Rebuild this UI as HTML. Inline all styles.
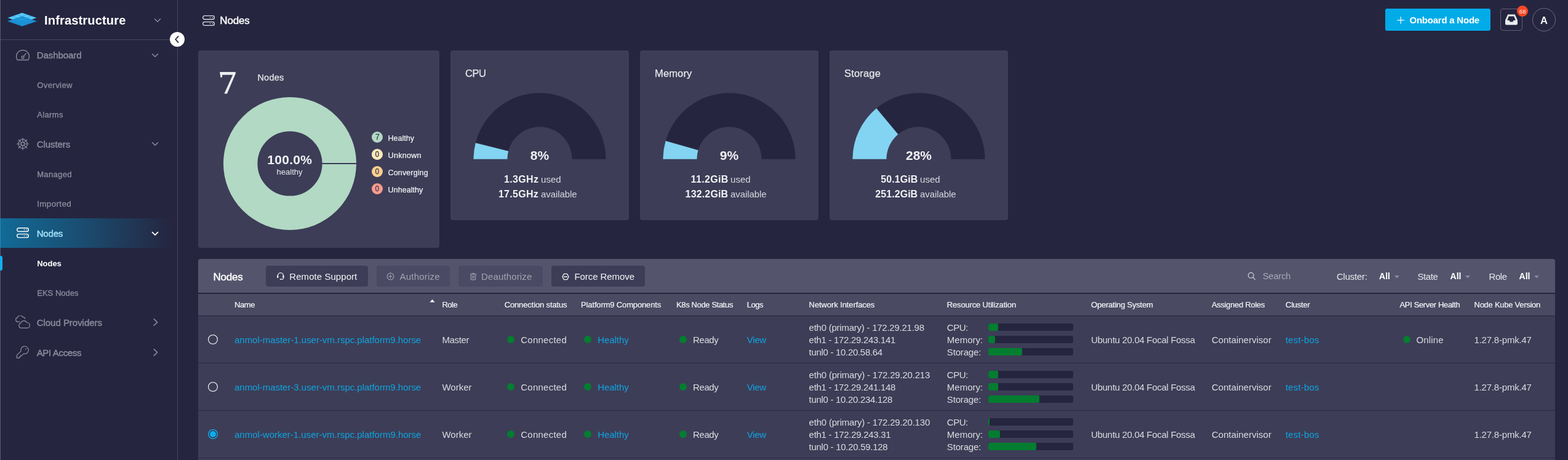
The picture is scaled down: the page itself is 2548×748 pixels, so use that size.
<!DOCTYPE html>
<html lang="en"><head><meta charset="utf-8"><title>Nodes - Infrastructure</title>
<style>
html,body{margin:0;padding:0;}
body{width:2548px;height:748px;overflow:hidden;background:#25253f;position:relative;font-family:'Liberation Sans',sans-serif;}
#app{position:absolute;left:0;top:0;width:2548px;height:748px;overflow:hidden;background:#25253f;}
#app div,#app span,#app svg{position:absolute;}
#app span{white-space:pre;}
</style></head><body><div id="app">
<nav aria-label="Infrastructure navigation">
<div style="left:0px;top:0px;width:1px;height:748px;background:#5a5a70;"></div>
<div style="left:288px;top:0px;width:1px;height:748px;background:#45455e;"></div>
<div style="left:1px;top:64px;width:287px;height:1px;background:#45455e;"></div>
<div style="left:0px;top:355px;width:288px;height:48px;background:linear-gradient(90deg,rgba(0,171,232,0.52) 0%,rgba(0,171,232,0.30) 45%,rgba(0,171,232,0.10) 80%,rgba(0,171,232,0) 97%);"></div>
<div style="left:0px;top:416px;width:4px;height:24px;background:#12b0f0;border-radius:0 3px 3px 0;"></div>
<svg style="left:12px;top:20px;" width="49" height="24" viewBox="0 0 49 24"><polygon points="24,6.3 48.1,14.5 24,22.7 0,14.5" fill="#1b8fd3"/><polygon points="24.00,0.80 47.60,9.00 24.00,17.10 0.30,9.00" fill="#2ba6e6"/><polygon points="24.00,1.18 30.76,3.53 23.97,5.88 17.20,3.53" fill="#5ecaf6"/><polygon points="16.10,3.92 22.86,6.27 16.07,8.62 9.30,6.27" fill="#5ecaf6"/><polygon points="8.20,6.65 14.96,9.00 8.17,11.35 1.40,9.00" fill="#5ecaf6"/><polygon points="31.86,3.92 38.63,6.27 31.84,8.62 25.07,6.27" fill="#5ecaf6"/><polygon points="23.96,6.65 30.73,9.00 23.94,11.35 17.17,9.00" fill="#1b90d4"/><polygon points="16.06,9.38 22.83,11.73 16.04,14.08 9.27,11.73" fill="#1b90d4"/><polygon points="39.73,6.65 46.50,9.00 39.70,11.35 32.94,9.00" fill="#5ecaf6"/><polygon points="31.83,9.38 38.60,11.73 31.80,14.08 25.04,11.73" fill="#1b90d4"/><polygon points="23.93,12.12 30.70,14.47 23.90,16.82 17.14,14.47" fill="#1b90d4"/></svg>
<span style="left:72.00px;top:22px;line-height:22px;font-size:20px;color:#ffffff;letter-spacing:0.176px;font-weight:700;">Infrastructure</span>
<svg style="left:248.5px;top:28px;" width="14" height="10" viewBox="0 0 14 10"><polyline points="2.5,2.7 7,7.2 11.5,2.7" fill="none" stroke="#8a8a9e" stroke-width="1.5" stroke-linecap="round" stroke-linejoin="round"/></svg>
<div style="left:276px;top:52px;width:24px;height:24px;border-radius:50%;background:#fff;"></div>
<svg style="left:282px;top:57px;" width="12" height="14" viewBox="0 0 12 14"><polyline points="7.6,2.2 3.2,7 7.6,11.8" fill="none" stroke="#25253f" stroke-width="1.8" stroke-linecap="round" stroke-linejoin="round"/></svg>
<svg style="left:25px;top:80px;" width="24" height="19" viewBox="0 0 24 19"><path d="M3.06,17.5 H20.94 A10.5,10.5 0 1 0 3.06,17.5 Z" fill="none" stroke="#8d8d9f" stroke-width="1.35" stroke-linejoin="round"/><circle cx="12" cy="13.1" r="1.9" fill="none" stroke="#8d8d9f" stroke-width="1.3"/><line x1="13.3" y1="11.7" x2="17.3" y2="7" stroke="#8d8d9f" stroke-width="1.3" stroke-linecap="round"/></svg>
<span style="left:59.70px;top:81px;line-height:17px;font-size:15px;color:#8d8d9f;letter-spacing:-0.055px;-webkit-text-stroke:0.4px #8d8d9f;">Dashboard</span>
<svg style="left:244.5px;top:84.5px;" width="14" height="10" viewBox="0 0 14 10"><polyline points="2.5,2.7 7,7.2 11.5,2.7" fill="none" stroke="#8d8d9f" stroke-width="1.5" stroke-linecap="round" stroke-linejoin="round"/></svg>
<span style="left:60.20px;top:131px;line-height:15px;font-size:13px;color:#8d8d9f;letter-spacing:0.442px;-webkit-text-stroke:0.3px #8d8d9f;">Overview</span>
<span style="left:60.20px;top:179px;line-height:15px;font-size:13px;color:#8d8d9f;letter-spacing:0.354px;-webkit-text-stroke:0.3px #8d8d9f;">Alarms</span>
<svg style="left:25.95px;top:222.5px;" width="22" height="22" viewBox="0 0 22 22"><circle cx="11" cy="11" r="7.3" fill="none" stroke="#8d8d9f" stroke-width="1.3"/><circle cx="11" cy="11" r="2.7" fill="none" stroke="#8d8d9f" stroke-width="1.2"/><line x1="13.70" y1="11.00" x2="20.50" y2="11.00" stroke="#8d8d9f" stroke-width="1.15" stroke-linecap="round"/><line x1="12.91" y1="12.91" x2="17.72" y2="17.72" stroke="#8d8d9f" stroke-width="1.15" stroke-linecap="round"/><line x1="11.00" y1="13.70" x2="11.00" y2="20.50" stroke="#8d8d9f" stroke-width="1.15" stroke-linecap="round"/><line x1="9.09" y1="12.91" x2="4.28" y2="17.72" stroke="#8d8d9f" stroke-width="1.15" stroke-linecap="round"/><line x1="8.30" y1="11.00" x2="1.50" y2="11.00" stroke="#8d8d9f" stroke-width="1.15" stroke-linecap="round"/><line x1="9.09" y1="9.09" x2="4.28" y2="4.28" stroke="#8d8d9f" stroke-width="1.15" stroke-linecap="round"/><line x1="11.00" y1="8.30" x2="11.00" y2="1.50" stroke="#8d8d9f" stroke-width="1.15" stroke-linecap="round"/><line x1="12.91" y1="9.09" x2="17.72" y2="4.28" stroke="#8d8d9f" stroke-width="1.15" stroke-linecap="round"/></svg>
<span style="left:59.70px;top:226px;line-height:17px;font-size:15px;color:#8d8d9f;letter-spacing:-0.079px;-webkit-text-stroke:0.4px #8d8d9f;">Clusters</span>
<svg style="left:244.5px;top:229px;" width="14" height="10" viewBox="0 0 14 10"><polyline points="2.5,2.7 7,7.2 11.5,2.7" fill="none" stroke="#8d8d9f" stroke-width="1.5" stroke-linecap="round" stroke-linejoin="round"/></svg>
<span style="left:60.20px;top:276px;line-height:15px;font-size:13px;color:#8d8d9f;letter-spacing:0.344px;-webkit-text-stroke:0.3px #8d8d9f;">Managed</span>
<span style="left:60.20px;top:324px;line-height:15px;font-size:13.5px;color:#8d8d9f;letter-spacing:0.324px;-webkit-text-stroke:0.3px #8d8d9f;">Imported</span>
<svg style="left:26px;top:368.9px;" width="22" height="20" viewBox="0 0 22 20"><rect x="1.7" y="1.7" width="18.6" height="5.8" rx="2.7" fill="none" stroke="#ffffff" stroke-width="1.4"/><rect x="1.7" y="11.6" width="18.6" height="5.8" rx="2.7" fill="none" stroke="#ffffff" stroke-width="1.4"/><circle cx="13.5" cy="4.6" r="0.8" fill="#ffffff"/><circle cx="17.3" cy="4.6" r="0.8" fill="#ffffff"/><circle cx="13.5" cy="14.5" r="0.8" fill="#ffffff"/><circle cx="17.3" cy="14.5" r="0.8" fill="#ffffff"/></svg>
<span style="left:59.70px;top:371px;line-height:17px;font-size:15px;color:#a2e1fa;letter-spacing:-0.170px;-webkit-text-stroke:0.4px #a2e1fa;">Nodes</span>
<svg style="left:244.5px;top:374.5px;" width="14" height="10" viewBox="0 0 14 10"><polyline points="2.5,2.7 7,7.2 11.5,2.7" fill="none" stroke="#ffffff" stroke-width="1.8" stroke-linecap="round" stroke-linejoin="round"/></svg>
<span style="left:60.20px;top:421px;line-height:15px;font-size:13px;color:#ffffff;letter-spacing:-0.025px;font-weight:700;">Nodes</span>
<span style="left:60.20px;top:469px;line-height:15px;font-size:13px;color:#8d8d9f;letter-spacing:0.020px;-webkit-text-stroke:0.3px #8d8d9f;">EKS Nodes</span>
<svg style="left:24px;top:513px;" width="26" height="22" viewBox="0 0 26 22"><path d="M8.2,10.4 H5 a3.6,3.6 0 0 1 -0.6,-7.1 a4.6,4.6 0 0 1 8.6,-0.6 a3.4,3.4 0 0 1 3.6,2.4" fill="none" stroke="#8d8d9f" stroke-width="1.2" stroke-linecap="round" stroke-linejoin="round"/><path d="M10.6,20.4 a4.1,4.1 0 0 1 -0.6,-8.1 a5.2,5.2 0 0 1 9.6,-0.8 a4.5,4.5 0 0 1 1.2,8.9 Z" fill="none" stroke="#8d8d9f" stroke-width="1.2" stroke-linejoin="round"/></svg>
<span style="left:59.70px;top:516px;line-height:17px;font-size:15px;color:#8d8d9f;letter-spacing:-0.027px;-webkit-text-stroke:0.4px #8d8d9f;">Cloud Providers</span>
<svg style="left:248px;top:517px;" width="10" height="14" viewBox="0 0 10 14"><polyline points="2.2,1.8 7.6,7 2.2,12.2" fill="none" stroke="#8d8d9f" stroke-width="1.6" stroke-linecap="round" stroke-linejoin="round"/></svg>
<svg style="left:26px;top:562px;" width="22" height="22" viewBox="0 0 22 22"><path d="M12.5,13.2 A6.2,6.2 0 1 0 8.1,8.8 L1.3,15.7 V20.1 H5.5 V18.1 H7.6 V16.1 H9.6 Z" fill="none" stroke="#8d8d9f" stroke-width="1.2" stroke-linejoin="round"/><circle cx="15.9" cy="5.5" r="0.9" fill="#8d8d9f"/></svg>
<span style="left:59.70px;top:565px;line-height:17px;font-size:15px;color:#8d8d9f;letter-spacing:-0.341px;-webkit-text-stroke:0.4px #8d8d9f;">API Access</span>
<svg style="left:248px;top:566px;" width="10" height="14" viewBox="0 0 10 14"><polyline points="2.2,1.8 7.6,7 2.2,12.2" fill="none" stroke="#8d8d9f" stroke-width="1.6" stroke-linecap="round" stroke-linejoin="round"/></svg>
</nav>
<header>
<svg style="left:327.9px;top:23.9px;" width="22" height="20" viewBox="0 0 22 20"><rect x="1.7" y="1.7" width="18.6" height="5.8" rx="2.7" fill="none" stroke="#e0e0e6" stroke-width="1.3"/><rect x="1.7" y="11.6" width="18.6" height="5.8" rx="2.7" fill="none" stroke="#e0e0e6" stroke-width="1.3"/><circle cx="13.5" cy="4.6" r="0.8" fill="#e0e0e6"/><circle cx="17.3" cy="4.6" r="0.8" fill="#e0e0e6"/><circle cx="13.5" cy="14.5" r="0.8" fill="#e0e0e6"/><circle cx="17.3" cy="14.5" r="0.8" fill="#e0e0e6"/></svg>
<span style="left:357.30px;top:24px;line-height:19px;font-size:17px;color:#ffffff;letter-spacing:-0.177px;-webkit-text-stroke:0.4px #fff;">Nodes</span>
<div style="left:2251px;top:14px;width:171px;height:36px;background:#00abe8;border-radius:3px;"></div>
<svg style="left:2270px;top:27px;" width="12" height="12" viewBox="0 0 12 12"><path d="M6.2,0.6 V11.2 M0.9,5.9 H11.5" stroke="#fff" stroke-width="1.15" stroke-linecap="round"/></svg>
<span style="left:2290.50px;top:24px;line-height:17px;font-size:15px;color:#ffffff;letter-spacing:-0.230px;font-weight:700;">Onboard a Node</span>
<div style="left:2438px;top:14px;width:34px;height:34px;border:1px solid #60607a;border-radius:4px;"></div>
<svg style="left:2445px;top:21.6px;" width="22" height="20" viewBox="0 0 22 20"><path d="M5.2,1.6 H16.8 L21,11 V16.4 a2,2 0 0 1 -2,2 H3 a2,2 0 0 1 -2,-2 V11 Z M4.2,11 H7.4 L8.8,13.6 H13.2 L14.6,11 H17.8 L15.2,4.6 H6.8 Z" fill="#ececf0" fill-rule="evenodd"/></svg>
<div style="left:2465px;top:9px;width:18px;height:18px;border-radius:50%;background:#f84724;"></div>
<span style="left:2468.75px;top:13px;line-height:11px;font-size:9.5px;color:#f4f4f6;letter-spacing:0.3px;">68</span>
<div style="left:2490px;top:13px;width:36px;height:36px;border:1px solid #6a6a80;border-radius:50%;"></div>
<span style="left:2503.03px;top:24px;line-height:18px;font-size:16.5px;color:#f0f0f4;font-weight:700;">A</span>
</header>
<main>
<section aria-label="Node health and resource usage">
<div style="left:322px;top:82px;width:392px;height:321px;background:#3d3d57;border-radius:4px;"></div>
<div style="left:732px;top:82px;width:290px;height:276px;background:#3d3d57;border-radius:4px;"></div>
<div style="left:1040px;top:82px;width:290px;height:276px;background:#3d3d57;border-radius:4px;"></div>
<div style="left:1348px;top:82px;width:290px;height:276px;background:#3d3d57;border-radius:4px;"></div>
<span style="left:358.60px;top:105px;line-height:58px;font-size:53px;color:#f0f0f4;font-family:'Liberation Serif',serif;transform:scaleX(1.16) skewX(6deg);transform-origin:0 100%;-webkit-text-stroke:0.4px #f0f0f4;">7</span>
<span style="left:418.40px;top:118px;line-height:16px;font-size:14.5px;color:#e6e6ea;letter-spacing:0.250px;-webkit-text-stroke:0.25px #e6e6ea;">Nodes</span>
<svg style="left:363px;top:158px;" width="216" height="216" viewBox="0 0 216 216"><circle cx="108" cy="108" r="80.3" fill="none" stroke="#b2d9c4" stroke-width="55.4"/><rect x="160" y="107" width="57" height="2" fill="#3d3d57"/></svg>
<span style="left:434.36px;top:248px;line-height:23px;font-size:21px;color:#f0f0f4;letter-spacing:0.264px;font-weight:700;">100.0%</span>
<span style="left:449.40px;top:272px;line-height:15px;font-size:13px;color:#e6e6ea;letter-spacing:0.048px;">healthy</span>
<div style="left:604px;top:214px;width:18px;height:18px;border-radius:50%;background:#b2d9c4;"></div>
<span style="left:609.91px;top:216px;line-height:14px;font-size:12px;color:#3d3d57;-webkit-text-stroke:0.3px #3d3d57;">7</span>
<span style="left:630.60px;top:218px;line-height:14px;font-size:12.5px;color:#f0f0f4;letter-spacing:-0.011px;-webkit-text-stroke:0.22px #f0f0f4;">Healthy</span>
<div style="left:604px;top:242px;width:18px;height:18px;border-radius:50%;background:#fdeab8;"></div>
<span style="left:609.56px;top:244px;line-height:14px;font-size:12px;color:#3d3d57;-webkit-text-stroke:0.3px #3d3d57;">0</span>
<span style="left:630.60px;top:246px;line-height:14px;font-size:12.5px;color:#f0f0f4;letter-spacing:0.284px;-webkit-text-stroke:0.22px #f0f0f4;">Unknown</span>
<div style="left:604px;top:270px;width:18px;height:18px;border-radius:50%;background:#fbd08e;"></div>
<span style="left:609.56px;top:272px;line-height:14px;font-size:12px;color:#3d3d57;-webkit-text-stroke:0.3px #3d3d57;">0</span>
<span style="left:630.60px;top:274px;line-height:14px;font-size:12.5px;color:#f0f0f4;letter-spacing:0.123px;-webkit-text-stroke:0.22px #f0f0f4;">Converging</span>
<div style="left:604px;top:298px;width:18px;height:18px;border-radius:50%;background:#fb9c8b;"></div>
<span style="left:609.56px;top:300px;line-height:14px;font-size:12px;color:#3d3d57;-webkit-text-stroke:0.3px #3d3d57;">0</span>
<span style="left:630.60px;top:302px;line-height:14px;font-size:12.5px;color:#f0f0f4;letter-spacing:0.044px;-webkit-text-stroke:0.22px #f0f0f4;">Unhealthy</span>
<svg style="left:0;top:0" width="2548" height="400" viewBox="0 0 2548 400"><path d="M769.50,258.70 A107.5,107.5 0 0 1 772.76,232.42 L826.09,245.87 A52.5,52.5 0 0 0 824.50,258.70 Z" fill="#82d4f2"/><path d="M772.99,231.51 A107.5,107.5 0 0 1 984.50,258.70 L929.50,258.70 A52.5,52.5 0 0 0 826.21,245.42 Z" fill="#25253f"/></svg>
<span style="left:756.00px;top:110px;line-height:18px;font-size:16.5px;color:#e6e6ea;letter-spacing:-0.446px;-webkit-text-stroke:0.25px #e6e6ea;">CPU</span>
<span style="left:861.87px;top:241px;line-height:23px;font-size:21px;color:#f0f0f4;font-weight:700;">8%</span>
<span style="left:818.89px;top:283px;line-height:17px;font-size:16px;color:#f0f0f4;letter-spacing:0.369px;font-weight:700;">1.3GHz</span>
<span style="left:879.00px;top:283px;line-height:17px;font-size:15px;color:#d6d6de;letter-spacing:0.059px;">used</span>
<span style="left:809.89px;top:307px;line-height:17px;font-size:16px;color:#f0f0f4;letter-spacing:0.308px;font-weight:700;">17.5GHz</span>
<span style="left:879.00px;top:307px;line-height:17px;font-size:15px;color:#d6d6de;letter-spacing:-0.090px;">available</span>
<svg style="left:0;top:0" width="2548" height="400" viewBox="0 0 2548 400"><path d="M1077.50,258.70 A107.5,107.5 0 0 1 1081.64,229.16 L1134.52,244.27 A52.5,52.5 0 0 0 1132.50,258.70 Z" fill="#82d4f2"/><path d="M1081.90,228.26 A107.5,107.5 0 0 1 1292.50,258.70 L1237.50,258.70 A52.5,52.5 0 0 0 1134.65,243.83 Z" fill="#25253f"/></svg>
<span style="left:1064.00px;top:110px;line-height:18px;font-size:16.5px;color:#e6e6ea;letter-spacing:0.141px;-webkit-text-stroke:0.25px #e6e6ea;">Memory</span>
<span style="left:1169.85px;top:241px;line-height:23px;font-size:21px;color:#f0f0f4;font-weight:700;">9%</span>
<span style="left:1122.59px;top:283px;line-height:17px;font-size:16px;color:#f0f0f4;letter-spacing:0.335px;font-weight:700;">11.2GiB</span>
<span style="left:1187.00px;top:283px;line-height:17px;font-size:15px;color:#d6d6de;letter-spacing:0.059px;">used</span>
<span style="left:1113.59px;top:307px;line-height:17px;font-size:16px;color:#f0f0f4;letter-spacing:0.158px;font-weight:700;">132.2GiB</span>
<span style="left:1187.00px;top:307px;line-height:17px;font-size:15px;color:#d6d6de;letter-spacing:-0.090px;">available</span>
<svg style="left:0;top:0" width="2548" height="400" viewBox="0 0 2548 400"><path d="M1385.50,258.70 A107.5,107.5 0 0 1 1424.12,176.17 L1459.36,218.39 A52.5,52.5 0 0 0 1440.50,258.70 Z" fill="#82d4f2"/><path d="M1424.84,175.57 A107.5,107.5 0 0 1 1600.50,258.70 L1545.50,258.70 A52.5,52.5 0 0 0 1459.71,218.10 Z" fill="#25253f"/></svg>
<span style="left:1372.00px;top:110px;line-height:18px;font-size:16.5px;color:#e6e6ea;letter-spacing:0.175px;-webkit-text-stroke:0.25px #e6e6ea;">Storage</span>
<span style="left:1471.98px;top:241px;line-height:23px;font-size:21px;color:#f0f0f4;font-weight:700;">28%</span>
<span style="left:1431.30px;top:283px;line-height:17px;font-size:16px;color:#f0f0f4;letter-spacing:0.068px;font-weight:700;">50.1GiB</span>
<span style="left:1495.00px;top:283px;line-height:17px;font-size:15px;color:#d6d6de;letter-spacing:0.059px;">used</span>
<span style="left:1422.35px;top:307px;line-height:17px;font-size:16px;color:#f0f0f4;letter-spacing:0.050px;font-weight:700;">251.2GiB</span>
<span style="left:1495.00px;top:307px;line-height:17px;font-size:15px;color:#d6d6de;letter-spacing:-0.090px;">available</span>
</section>
<section aria-label="Nodes table">
<div style="left:322px;top:421px;width:2205px;height:327px;background:#3d3d57;border-radius:4px 4px 0 0;"></div>
<div style="left:322px;top:421px;width:2205px;height:55px;background:#54546d;border-radius:4px 4px 0 0;"></div>
<div style="left:322px;top:476px;width:2205px;height:2px;background:#25253f;"></div>
<div style="left:322px;top:478px;width:2205px;height:35px;background:#4a4a63;"></div>
<div style="left:322px;top:513px;width:2205px;height:1px;background:#25253f;"></div>
<div style="left:322px;top:590px;width:2205px;height:1px;background:#2b2b45;"></div>
<div style="left:322px;top:667px;width:2205px;height:1px;background:#2b2b45;"></div>
<div style="left:322px;top:744px;width:2205px;height:1px;background:#2b2b45;"></div>
<span style="left:346.50px;top:441px;line-height:19px;font-size:17px;color:#ffffff;letter-spacing:-0.202px;-webkit-text-stroke:0.4px #fff;">Nodes</span>
<div style="left:432px;top:432px;width:166px;height:34px;background:#3d3d57;border-radius:4px;"></div>
<svg style="left:448.5px;top:442.3px" width="13.8" height="13.8" viewBox="0 0 15 15"><path d="M2.6,8.4 V6.6 a4.9,4.9 0 0 1 9.8,0 V8.4" fill="none" stroke="#f0f0f4" stroke-width="1.4"/><rect x="1.2" y="6.4" width="2.6" height="4.4" rx="1" fill="#f0f0f4"/><rect x="11.2" y="6.4" width="2.6" height="4.4" rx="1" fill="#f0f0f4"/><path d="M12.4,10.6 V11.6 a1.6,1.6 0 0 1 -1.6,1.6 H8" fill="none" stroke="#f0f0f4" stroke-width="1.2"/><rect x="6.2" y="12.2" width="2.6" height="1.8" rx="0.9" fill="#f0f0f4"/></svg>
<span style="left:470.30px;top:441px;line-height:17px;font-size:15px;color:#f0f0f4;letter-spacing:0.056px;">Remote Support</span>
<div style="left:612px;top:432px;width:119px;height:34px;background:#4a4a64;border-radius:4px;"></div>
<svg style="left:628.3px;top:442.9px" width="13" height="13" viewBox="0 0 14 14"><circle cx="7" cy="7" r="5.8" fill="none" stroke="#a2a2b2" stroke-width="1.2"/><path d="M7,4.2 V9.8 M4.2,7 H9.8" stroke="#a2a2b2" stroke-width="1.2" stroke-linecap="round"/></svg>
<span style="left:649.50px;top:441px;line-height:17px;font-size:15px;color:#a2a2b2;letter-spacing:0.208px;">Authorize</span>
<div style="left:745px;top:432px;width:137px;height:34px;background:#4a4a64;border-radius:4px;"></div>
<svg style="left:762.6px;top:442.6px" width="12" height="13" viewBox="0 0 13 14"><path d="M1.2,3.2 H11.8 M4.4,3 V1.6 H8.6 V3" fill="none" stroke="#a2a2b2" stroke-width="1.2" stroke-linecap="round"/><path d="M2.4,3.4 V11.6 a1.2,1.2 0 0 0 1.2,1.2 H9.4 a1.2,1.2 0 0 0 1.2,-1.2 V3.4" fill="none" stroke="#a2a2b2" stroke-width="1.2"/><path d="M4.8,5.4 V10.6 M6.5,5.4 V10.6 M8.2,5.4 V10.6" stroke="#a2a2b2" stroke-width="0.9"/></svg>
<span style="left:782.00px;top:441px;line-height:17px;font-size:15px;color:#a2a2b2;letter-spacing:0.141px;">Deauthorize</span>
<div style="left:896px;top:432px;width:152px;height:34px;background:#3d3d57;border-radius:4px;"></div>
<svg style="left:912.1px;top:442.5px" width="14" height="14" viewBox="0 0 14 14"><path d="M4.5,2.4 H9.5 L12.2,7 L9.5,11.6 H4.5 L1.8,7 Z" fill="none" stroke="#f0f0f4" stroke-width="1.3" stroke-linejoin="round"/><path d="M4.4,7 H9.6" stroke="#f0f0f4" stroke-width="1.3" stroke-linecap="round"/></svg>
<span style="left:933.50px;top:441px;line-height:17px;font-size:15px;color:#f0f0f4;letter-spacing:-0.076px;">Force Remove</span>
<svg style="left:2027px;top:442px;" width="14" height="14" viewBox="0 0 14 14"><circle cx="5.8" cy="5.8" r="4.4" fill="none" stroke="#d0d0d8" stroke-width="1.2"/><path d="M9,9 L12.6,12.6" stroke="#d0d0d8" stroke-width="1.2" stroke-linecap="round"/></svg>
<span style="left:2052.00px;top:441px;line-height:16px;font-size:14.5px;color:#a8a8b8;letter-spacing:-0.117px;">Search</span>
<span style="left:2172.00px;top:441px;line-height:17px;font-size:15px;color:#e6e6ea;letter-spacing:-0.240px;">Cluster:</span>
<span style="left:2241.00px;top:441px;line-height:16px;font-size:14px;color:#ffffff;letter-spacing:0.020px;font-weight:700;">All</span>
<svg style="left:2266px;top:447.5px;" width="8" height="5" viewBox="0 0 8 5"><polygon points="0,0 8,0 4,4.4" fill="#8a8a9e"/></svg>
<span style="left:2303.50px;top:441px;line-height:17px;font-size:15px;color:#e6e6ea;letter-spacing:-0.430px;">State</span>
<span style="left:2356.50px;top:441px;line-height:16px;font-size:14px;color:#ffffff;letter-spacing:0.020px;font-weight:700;">All</span>
<svg style="left:2381px;top:447.5px;" width="8" height="5" viewBox="0 0 8 5"><polygon points="0,0 8,0 4,4.4" fill="#8a8a9e"/></svg>
<span style="left:2419.50px;top:441px;line-height:17px;font-size:15px;color:#e6e6ea;letter-spacing:-0.450px;">Role</span>
<span style="left:2468.50px;top:441px;line-height:16px;font-size:14px;color:#ffffff;letter-spacing:0.020px;font-weight:700;">All</span>
<svg style="left:2493px;top:447.5px;" width="8" height="5" viewBox="0 0 8 5"><polygon points="0,0 8,0 4,4.4" fill="#8a8a9e"/></svg>
<span style="left:381.00px;top:488px;line-height:15px;font-size:13px;color:#f0f0f4;letter-spacing:-0.396px;-webkit-text-stroke:0.22px #f0f0f4;">Name</span>
<span style="left:718.40px;top:488px;line-height:15px;font-size:13px;color:#f0f0f4;letter-spacing:-0.450px;-webkit-text-stroke:0.22px #f0f0f4;">Role</span>
<span style="left:819.70px;top:488px;line-height:15px;font-size:13px;color:#f0f0f4;letter-spacing:-0.138px;-webkit-text-stroke:0.22px #f0f0f4;">Connection status</span>
<span style="left:944.10px;top:488px;line-height:15px;font-size:13px;color:#f0f0f4;letter-spacing:-0.148px;-webkit-text-stroke:0.22px #f0f0f4;">Platform9 Components</span>
<span style="left:1099.00px;top:488px;line-height:15px;font-size:13px;color:#f0f0f4;letter-spacing:-0.363px;-webkit-text-stroke:0.22px #f0f0f4;">K8s Node Status</span>
<span style="left:1213.70px;top:488px;line-height:15px;font-size:13px;color:#f0f0f4;letter-spacing:-0.450px;-webkit-text-stroke:0.22px #f0f0f4;">Logs</span>
<span style="left:1314.60px;top:488px;line-height:15px;font-size:13px;color:#f0f0f4;letter-spacing:-0.094px;-webkit-text-stroke:0.22px #f0f0f4;">Network Interfaces</span>
<span style="left:1538.80px;top:488px;line-height:15px;font-size:13px;color:#f0f0f4;letter-spacing:-0.173px;-webkit-text-stroke:0.22px #f0f0f4;">Resource Utilization</span>
<span style="left:1773.00px;top:488px;line-height:15px;font-size:13px;color:#f0f0f4;letter-spacing:-0.216px;-webkit-text-stroke:0.22px #f0f0f4;">Operating System</span>
<span style="left:1969.00px;top:488px;line-height:15px;font-size:13px;color:#f0f0f4;letter-spacing:-0.300px;-webkit-text-stroke:0.22px #f0f0f4;">Assigned Roles</span>
<span style="left:2089.00px;top:488px;line-height:15px;font-size:13px;color:#f0f0f4;letter-spacing:-0.242px;-webkit-text-stroke:0.22px #f0f0f4;">Cluster</span>
<span style="left:2274.50px;top:488px;line-height:15px;font-size:13px;color:#f0f0f4;letter-spacing:-0.356px;-webkit-text-stroke:0.22px #f0f0f4;">API Server Health</span>
<span style="left:2395.50px;top:488px;line-height:15px;font-size:13px;color:#f0f0f4;letter-spacing:-0.263px;-webkit-text-stroke:0.22px #f0f0f4;">Node Kube Version</span>
<svg style="left:698px;top:486px;" width="9" height="6" viewBox="0 0 9 6"><polygon points="0.4,5.4 8.6,5.4 4.5,0.8" fill="#f0f0f4"/></svg>
<svg style="left:336px;top:542px;" width="20" height="20" viewBox="0 0 20 20"><circle cx="10" cy="10" r="7.45" fill="none" stroke="#e0e0e6" stroke-width="1.3"/></svg>
<span style="left:381.00px;top:544px;line-height:17px;font-size:15px;color:#0ea4df;letter-spacing:-0.025px;">anmol-master-1.user-vm.rspc.platform9.horse</span>
<span style="left:718.40px;top:544px;line-height:17px;font-size:15px;color:#dadae0;letter-spacing:-0.356px;">Master</span>
<div style="left:824px;top:546px;width:12px;height:12px;border-radius:50%;background:#047d30;"></div>
<span style="left:846.30px;top:544px;line-height:17px;font-size:15px;color:#dadae0;letter-spacing:0.235px;">Connected</span>
<div style="left:949px;top:546px;width:12px;height:12px;border-radius:50%;background:#047d30;"></div>
<span style="left:971.20px;top:544px;line-height:17px;font-size:15px;color:#0ea4df;letter-spacing:-0.049px;">Healthy</span>
<div style="left:1104px;top:546px;width:12px;height:12px;border-radius:50%;background:#047d30;"></div>
<span style="left:1126.10px;top:544px;line-height:17px;font-size:15px;color:#dadae0;letter-spacing:-0.422px;">Ready</span>
<span style="left:1213.70px;top:544px;line-height:17px;font-size:15px;color:#0ea4df;letter-spacing:-0.248px;">View</span>
<span style="left:1314.60px;top:524px;line-height:17px;font-size:15px;color:#dadae0;letter-spacing:-0.244px;">eth0 (primary) - 172.29.21.98</span>
<span style="left:1314.60px;top:544px;line-height:17px;font-size:15px;color:#dadae0;letter-spacing:-0.300px;">eth1 - 172.29.243.141</span>
<span style="left:1314.60px;top:564px;line-height:17px;font-size:15px;color:#dadae0;letter-spacing:-0.308px;">tunl0 - 10.20.58.64</span>
<span style="left:1538.80px;top:524px;line-height:17px;font-size:15px;color:#dadae0;letter-spacing:-0.450px;">CPU:</span>
<div style="left:1606px;top:526px;width:138px;height:12px;background:#25253f;border-radius:3px;"></div>
<div style="left:1606px;top:526px;width:16px;height:12px;background:#047d30;border-radius:3px 2px 2px 3px;"></div>
<span style="left:1538.80px;top:544px;line-height:17px;font-size:15px;color:#dadae0;">Memory:</span>
<div style="left:1606px;top:546px;width:138px;height:12px;background:#25253f;border-radius:3px;"></div>
<div style="left:1606px;top:546px;width:11px;height:12px;background:#047d30;border-radius:3px 2px 2px 3px;"></div>
<span style="left:1538.80px;top:564px;line-height:17px;font-size:15px;color:#dadae0;letter-spacing:-0.169px;">Storage:</span>
<div style="left:1606px;top:566px;width:138px;height:12px;background:#25253f;border-radius:3px;"></div>
<div style="left:1606px;top:566px;width:55px;height:12px;background:#047d30;border-radius:3px 2px 2px 3px;"></div>
<span style="left:1773.00px;top:544px;line-height:17px;font-size:15px;color:#dadae0;letter-spacing:-0.300px;">Ubuntu 20.04 Focal Fossa</span>
<span style="left:1969.00px;top:544px;line-height:17px;font-size:15px;color:#dadae0;letter-spacing:0.017px;">Containervisor</span>
<span style="left:2089.00px;top:544px;line-height:17px;font-size:15px;color:#0ea4df;letter-spacing:0.164px;">test-bos</span>
<div style="left:2280px;top:546px;width:12px;height:12px;border-radius:50%;background:#047d30;"></div>
<span style="left:2301.50px;top:544px;line-height:17px;font-size:15px;color:#dadae0;letter-spacing:0.132px;">Online</span>
<span style="left:2395.50px;top:544px;line-height:17px;font-size:15px;color:#dadae0;letter-spacing:-0.208px;">1.27.8-pmk.47</span>
<svg style="left:336px;top:619px;" width="20" height="20" viewBox="0 0 20 20"><circle cx="10" cy="10" r="7.45" fill="none" stroke="#e0e0e6" stroke-width="1.3"/></svg>
<span style="left:381.00px;top:621px;line-height:17px;font-size:15px;color:#0ea4df;letter-spacing:-0.025px;">anmol-master-3.user-vm.rspc.platform9.horse</span>
<span style="left:718.40px;top:621px;line-height:17px;font-size:15px;color:#dadae0;letter-spacing:0.022px;">Worker</span>
<div style="left:824px;top:623px;width:12px;height:12px;border-radius:50%;background:#047d30;"></div>
<span style="left:846.30px;top:621px;line-height:17px;font-size:15px;color:#dadae0;letter-spacing:0.235px;">Connected</span>
<div style="left:949px;top:623px;width:12px;height:12px;border-radius:50%;background:#047d30;"></div>
<span style="left:971.20px;top:621px;line-height:17px;font-size:15px;color:#0ea4df;letter-spacing:-0.049px;">Healthy</span>
<div style="left:1104px;top:623px;width:12px;height:12px;border-radius:50%;background:#047d30;"></div>
<span style="left:1126.10px;top:621px;line-height:17px;font-size:15px;color:#dadae0;letter-spacing:-0.422px;">Ready</span>
<span style="left:1213.70px;top:621px;line-height:17px;font-size:15px;color:#0ea4df;letter-spacing:-0.248px;">View</span>
<span style="left:1314.60px;top:601px;line-height:17px;font-size:15px;color:#dadae0;letter-spacing:-0.205px;">eth0 (primary) - 172.29.20.213</span>
<span style="left:1314.60px;top:621px;line-height:17px;font-size:15px;color:#dadae0;letter-spacing:-0.304px;">eth1 - 172.29.241.148</span>
<span style="left:1314.60px;top:641px;line-height:17px;font-size:15px;color:#dadae0;letter-spacing:-0.304px;">tunl0 - 10.20.234.128</span>
<span style="left:1538.80px;top:601px;line-height:17px;font-size:15px;color:#dadae0;letter-spacing:-0.450px;">CPU:</span>
<div style="left:1606px;top:603px;width:138px;height:12px;background:#25253f;border-radius:3px;"></div>
<div style="left:1606px;top:603px;width:16px;height:12px;background:#047d30;border-radius:3px 2px 2px 3px;"></div>
<span style="left:1538.80px;top:621px;line-height:17px;font-size:15px;color:#dadae0;">Memory:</span>
<div style="left:1606px;top:623px;width:138px;height:12px;background:#25253f;border-radius:3px;"></div>
<div style="left:1606px;top:623px;width:16px;height:12px;background:#047d30;border-radius:3px 2px 2px 3px;"></div>
<span style="left:1538.80px;top:641px;line-height:17px;font-size:15px;color:#dadae0;letter-spacing:-0.169px;">Storage:</span>
<div style="left:1606px;top:643px;width:138px;height:12px;background:#25253f;border-radius:3px;"></div>
<div style="left:1606px;top:643px;width:83px;height:12px;background:#047d30;border-radius:3px 2px 2px 3px;"></div>
<span style="left:1773.00px;top:621px;line-height:17px;font-size:15px;color:#dadae0;letter-spacing:-0.300px;">Ubuntu 20.04 Focal Fossa</span>
<span style="left:1969.00px;top:621px;line-height:17px;font-size:15px;color:#dadae0;letter-spacing:0.017px;">Containervisor</span>
<span style="left:2089.00px;top:621px;line-height:17px;font-size:15px;color:#0ea4df;letter-spacing:0.164px;">test-bos</span>
<span style="left:2395.50px;top:621px;line-height:17px;font-size:15px;color:#dadae0;letter-spacing:-0.208px;">1.27.8-pmk.47</span>
<svg style="left:336px;top:696px;" width="20" height="20" viewBox="0 0 20 20"><circle cx="10" cy="10" r="7.45" fill="none" stroke="#0aaeee" stroke-width="1.3"/><circle cx="10" cy="10" r="5.05" fill="#0aaeee"/></svg>
<span style="left:381.00px;top:698px;line-height:17px;font-size:15px;color:#0ea4df;">anmol-worker-1.user-vm.rspc.platform9.horse</span>
<span style="left:718.40px;top:698px;line-height:17px;font-size:15px;color:#dadae0;letter-spacing:0.022px;">Worker</span>
<div style="left:824px;top:700px;width:12px;height:12px;border-radius:50%;background:#047d30;"></div>
<span style="left:846.30px;top:698px;line-height:17px;font-size:15px;color:#dadae0;letter-spacing:0.235px;">Connected</span>
<div style="left:949px;top:700px;width:12px;height:12px;border-radius:50%;background:#047d30;"></div>
<span style="left:971.20px;top:698px;line-height:17px;font-size:15px;color:#0ea4df;letter-spacing:-0.049px;">Healthy</span>
<div style="left:1104px;top:700px;width:12px;height:12px;border-radius:50%;background:#047d30;"></div>
<span style="left:1126.10px;top:698px;line-height:17px;font-size:15px;color:#dadae0;letter-spacing:-0.422px;">Ready</span>
<span style="left:1213.70px;top:698px;line-height:17px;font-size:15px;color:#0ea4df;letter-spacing:-0.248px;">View</span>
<span style="left:1314.60px;top:678px;line-height:17px;font-size:15px;color:#dadae0;letter-spacing:-0.206px;">eth0 (primary) - 172.29.20.130</span>
<span style="left:1314.60px;top:698px;line-height:17px;font-size:15px;color:#dadae0;letter-spacing:-0.281px;">eth1 - 172.29.243.31</span>
<span style="left:1314.60px;top:718px;line-height:17px;font-size:15px;color:#dadae0;letter-spacing:-0.281px;">tunl0 - 10.20.59.128</span>
<span style="left:1538.80px;top:678px;line-height:17px;font-size:15px;color:#dadae0;letter-spacing:-0.450px;">CPU:</span>
<div style="left:1606px;top:680px;width:138px;height:12px;background:#25253f;border-radius:3px;"></div>
<div style="left:1606px;top:680px;width:2px;height:12px;background:#047d30;border-radius:3px 0 0 3px;"></div>
<span style="left:1538.80px;top:698px;line-height:17px;font-size:15px;color:#dadae0;">Memory:</span>
<div style="left:1606px;top:700px;width:138px;height:12px;background:#25253f;border-radius:3px;"></div>
<div style="left:1606px;top:700px;width:19px;height:12px;background:#047d30;border-radius:3px 2px 2px 3px;"></div>
<span style="left:1538.80px;top:718px;line-height:17px;font-size:15px;color:#dadae0;letter-spacing:-0.169px;">Storage:</span>
<div style="left:1606px;top:720px;width:138px;height:12px;background:#25253f;border-radius:3px;"></div>
<div style="left:1606px;top:720px;width:78px;height:12px;background:#047d30;border-radius:3px 2px 2px 3px;"></div>
<span style="left:1773.00px;top:698px;line-height:17px;font-size:15px;color:#dadae0;letter-spacing:-0.300px;">Ubuntu 20.04 Focal Fossa</span>
<span style="left:1969.00px;top:698px;line-height:17px;font-size:15px;color:#dadae0;letter-spacing:0.017px;">Containervisor</span>
<span style="left:2089.00px;top:698px;line-height:17px;font-size:15px;color:#0ea4df;letter-spacing:0.164px;">test-bos</span>
<span style="left:2395.50px;top:698px;line-height:17px;font-size:15px;color:#dadae0;letter-spacing:-0.208px;">1.27.8-pmk.47</span>
</section>
</main>
</div></body></html>
